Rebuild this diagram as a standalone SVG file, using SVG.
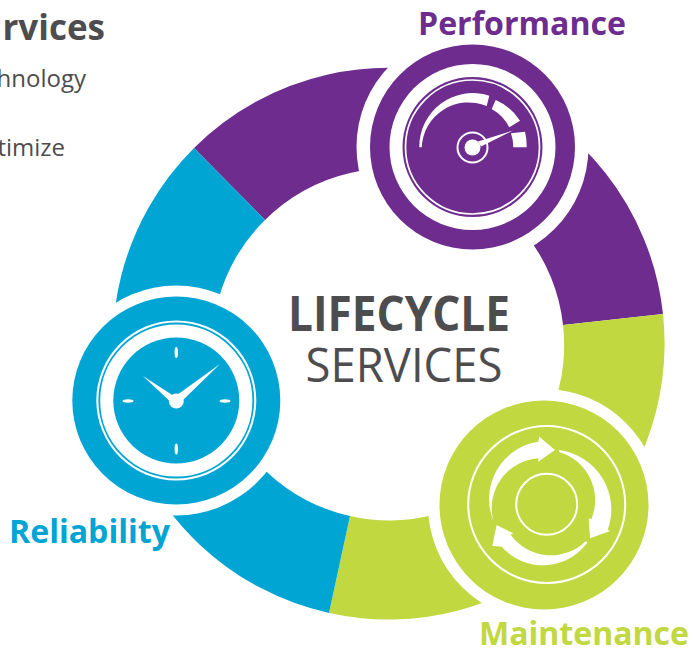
<svg xmlns="http://www.w3.org/2000/svg" width="693" height="653" viewBox="0 0 693 653">
<style>
.t{font-family:"Open Sans","Noto Sans","Liberation Sans",sans-serif}
.lab{font-weight:700;font-size:33px}
.w{fill:#fff}
.ln{fill:none;stroke:#fff}
.purple{fill:#6d2c8e}
.blue{fill:#00a5d3}
.green{fill:#c1d840}
.dark{fill:#4d4d4f}
</style>
<rect width="693" height="653" fill="#fff"/>
<g id="intro">
<text class="t dark" x="105" y="40" text-anchor="end" font-size="35" font-weight="700">rvices</text>
<text class="t dark" x="86" y="87" text-anchor="end" font-size="24">hnology</text>
<text class="t dark" x="65" y="156" text-anchor="end" font-size="24">timize</text>
</g>
<g id="connectors">
<path class="purple" d="M194 148A276 276 0 0 1 663 314L563 325A175 175 0 0 0 265 220Z"/>
<path class="green" d="M663 314A276 276 0 0 1 329 613L350 516A175 175 0 0 0 563 325Z"/>
<path class="blue" d="M329 613A276 276 0 0 1 194 148L265 220A175 175 0 0 0 350 516Z"/>
</g>
<g id="center-label">
<text class="t dark" x="399" y="331" text-anchor="middle" font-size="49" font-weight="700" textLength="222" lengthAdjust="spacingAndGlyphs">LIFECYCLE</text>
<text class="t dark" x="404" y="382" text-anchor="middle" font-size="47" textLength="197" lengthAdjust="spacingAndGlyphs">SERVICES</text>
</g>
<g id="performance">
<circle class="w" cx="472.500" cy="147" r="116"/>
<circle class="purple" cx="472.500" cy="147" r="102.500"/>
<circle class="w" cx="472.500" cy="147" r="83"/>
<circle class="purple" cx="472.500" cy="147" r="70"/>
<circle class="ln" cx="472.500" cy="147" r="67" stroke-width="1.700"/>
<path class="w" d="M419.300 147.300A53.500 53.500 0 0 1 489.300 95.700L486.700 106A47 47 0 0 0 421.700 147.300Z"/>
<path class="w" d="M495.700 100A54 54 0 0 1 520 120.700L509.300 127.300A44 44 0 0 0 491.700 109Z"/>
<path class="w" d="M525 131.700A54 54 0 0 1 526.700 147.300H513.300A42 42 0 0 0 511 133.300Z"/>
<circle class="ln" cx="472.500" cy="147.500" r="15" stroke-width="2"/>
<circle class="w" cx="472.500" cy="147.500" r="8"/>
<path class="w" d="M478 141.500L513 130.500L481 146.500Z"/>
<text class="t lab purple" x="522" y="35" text-anchor="middle" textLength="208" lengthAdjust="spacingAndGlyphs">Performance</text>
</g>
<g id="reliability">
<circle class="w" cx="176.300" cy="400.500" r="115"/>
<circle class="blue" cx="176.300" cy="400.500" r="104"/>
<circle class="w" cx="176.300" cy="400.500" r="80"/>
<circle cx="176.300" cy="400.500" r="77" fill="none" stroke="#00a5d3" stroke-width="1.800"/>
<circle class="blue" cx="176.300" cy="400.500" r="63"/>
<circle class="w" cx="176.300" cy="401" r="7.500"/>
<path class="w" d="M143 376L173 395.500L169 400.500Z"/>
<path class="w" d="M220 364L177 395L182.500 400.500Z"/>
<ellipse class="w" cx="176.300" cy="352.500" rx="1.700" ry="5.500"/>
<ellipse class="w" cx="176.300" cy="449" rx="1.700" ry="5.500"/>
<ellipse class="w" cx="128" cy="401" rx="5.500" ry="1.700"/>
<ellipse class="w" cx="225" cy="401" rx="5.500" ry="1.700"/>
<text class="t lab blue" x="89.500" y="543" text-anchor="middle" textLength="161" lengthAdjust="spacingAndGlyphs">Reliability</text>
</g>
<g id="maintenance">
<circle class="w" cx="544" cy="505" r="116"/>
<circle class="green" cx="544" cy="505" r="104.500"/>
<circle class="ln" cx="546.700" cy="504.500" r="78.500" stroke-width="2"/>
<circle class="ln" cx="546.700" cy="504.300" r="30.500" stroke-width="2"/>
<path class="w" d="M493.300 520.700A58 58 0 0 1 538.300 441.700L539.300 436.700L555 450L538.300 461.700V458.300A50 50 0 0 0 493.300 520.700Z"/>
<path class="w" d="M559 450A60 60 0 0 1 607.700 530L610.300 531L590 538.300L588.700 518.300L591.300 519.300A50 50 0 0 0 559 452Z"/>
<path class="w" d="M587.300 542.700A55 55 0 0 1 501.700 546.700L492.300 545.700L496.700 525L513.300 533.300L510.700 535A50 50 0 0 0 586 541Z"/>
<text class="t lab green" x="584" y="645" text-anchor="middle" textLength="210" lengthAdjust="spacingAndGlyphs">Maintenance</text>
</g>
</svg>
